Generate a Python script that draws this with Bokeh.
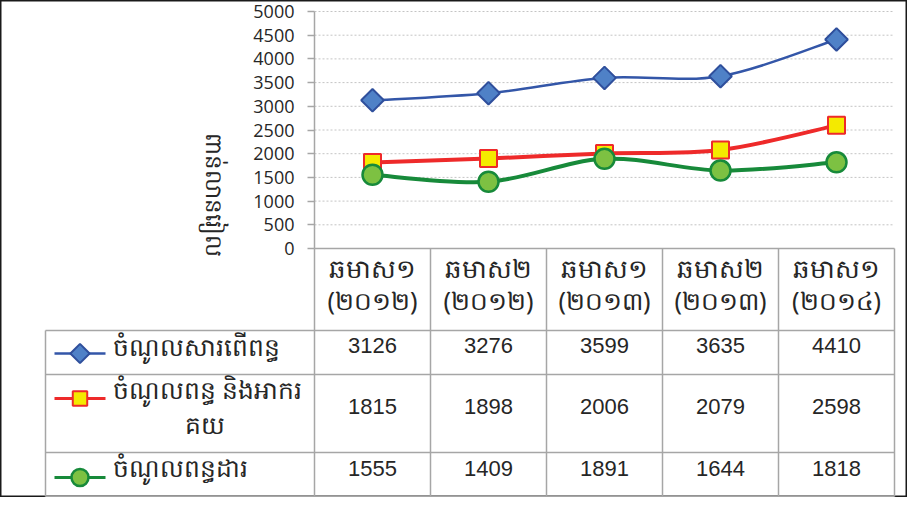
import math
from bokeh.plotting import figure
from bokeh.models import Range1d, LinearAxis, FixedTicker
from bokeh.core.properties import value
from bokeh.embed import file_html
from bokeh.resources import INLINE

# ---------------- data ----------------
periods = ["ឆមាស១", "ឆមាស២", "ឆមាស១", "ឆមាស២", "ឆមាស១"]
years = ["(២០១២)", "(២០១២)", "(២០១៣)", "(២០១៣)", "(២០១៤)"]
tax_revenue = [3126, 3276, 3599, 3635, 4410]          # ចំណូលសារពើពន្ធ
customs_revenue = [1815, 1898, 2006, 2079, 2598]      # ចំណូលពន្ធ និងអាករគយ
direct_tax_revenue = [1555, 1409, 1891, 1644, 1818]   # ចំណូលពន្ធដារ
series_names = [["ចំណូលសារពើពន្ធ"], ["ចំណូលពន្ធ និងអាករ", "គយ"], ["ចំណូលពន្ធដារ"]]
y_ticks = [0, 500, 1000, 1500, 2000, 2500, 3000, 3500, 4000, 4500, 5000]
y_label = "ពាន់លានរៀល"

# ---------------- layout ----------------
W, H = 907, 497
COL = 116.0                     # px per category
AX_PX = 314                     # canvas px of the value axis
def dx(px):                     # canvas px -> x data units
    return -0.5 + (px - AX_PX) / COL

Y0_PX, Y5000_PX = 248, 11
UPP = 5000.0 / (Y0_PX - Y5000_PX)

HEAD_TOP, ROW1, ROW2, ROW3, BOT = Y0_PX, 330, 374, 452, 496
LEG_X0 = dx(45)

xs = list(range(len(periods)))
KH = value("Noto Sans")
GRAY = "#a6a6a6"
TXT = "#262626"

p = figure(width=W, height=H,
           x_range=Range1d(dx(0), dx(W)),
           y_range=Range1d(-(H - Y0_PX) * UPP, 5000 + Y5000_PX * UPP),
           x_axis_type=None, y_axis_type=None,
           toolbar_location=None, output_backend="svg", min_border=0)
p.extra_y_ranges = {"tab": Range1d(start=H, end=0)}
p.outline_line_color = "#1a1a1a"
p.outline_line_width = 2
p.background_fill_color = "white"

# value axis
yaxis = LinearAxis(fixed_location=-0.5, bounds=(0, 5000), ticker=FixedTicker(ticks=y_ticks))
yaxis.axis_line_color = GRAY
yaxis.axis_line_width = 1.5
yaxis.major_tick_line_color = GRAY
yaxis.major_tick_line_width = 1.5
yaxis.major_tick_out = 7
yaxis.major_tick_in = 0
yaxis.minor_tick_line_color = None
yaxis.major_label_standoff = 13
yaxis.major_label_text_font = "Open Sans"
yaxis.major_label_text_font_size = "18px"
yaxis.major_label_text_color = TXT
p.add_layout(yaxis, "left")

# dotted gridlines
grid_vals = [t for t in y_ticks if t > 0]
p.segment(x0=[-0.5] * len(grid_vals), x1=[len(xs) - 0.5] * len(grid_vals),
          y0=grid_vals, y1=grid_vals, line_color="#c4c4c4", line_width=1, line_dash="2 2")

# table lines
n = len(xs)
p.segment(x0=[-0.5], x1=[n - 0.5], y0=[HEAD_TOP], y1=[HEAD_TOP],
          line_color=GRAY, line_width=1.5, y_range_name="tab")
p.segment(x0=[LEG_X0] * 4, x1=[n - 0.5] * 4, y0=[ROW1, ROW2, ROW3, BOT], y1=[ROW1, ROW2, ROW3, BOT],
          line_color=GRAY, line_width=1.5, y_range_name="tab")
vx = [i - 0.5 for i in range(n + 1)]
p.segment(x0=vx, x1=vx, y0=[HEAD_TOP] * len(vx), y1=[BOT] * len(vx),
          line_color=GRAY, line_width=1.5, y_range_name="tab")
p.segment(x0=[LEG_X0], x1=[LEG_X0], y0=[ROW1], y1=[BOT],
          line_color=GRAY, line_width=1.5, y_range_name="tab")

# smooth lines (Catmull-Rom -> Bezier), computed from the data points
def bezier_parts(xv, yv, t=1.0 / 6):
    m = len(xv)
    out = {k: [] for k in ("x0", "y0", "x1", "y1", "cx0", "cy0", "cx1", "cy1")}
    for i in range(m - 1):
        xp, yp = (xv[i - 1], yv[i - 1]) if i > 0 else (xv[i], yv[i])
        xn, yn = (xv[i + 2], yv[i + 2]) if i + 2 < m else (xv[i + 1], yv[i + 1])
        out["x0"].append(xv[i]); out["y0"].append(yv[i])
        out["x1"].append(xv[i + 1]); out["y1"].append(yv[i + 1])
        out["cx0"].append(xv[i] + (xv[i + 1] - xp) * t)
        out["cy0"].append(yv[i] + (yv[i + 1] - yp) * t)
        out["cx1"].append(xv[i + 1] - (xn - xv[i]) * t)
        out["cy1"].append(yv[i + 1] - (yn - yv[i]) * t)
    return out

styles = [
    dict(data=tax_revenue, line="#3356a8", lw=2.5, marker="square", angle=math.pi / 4,
         size=16, fill="#4f81c7", edge="#2f4f9c", ew=2),
    dict(data=customs_revenue, line="#ee2a2a", lw=4, marker="square", angle=0,
         size=17, fill="#f4ea00", edge="#ee2a2a", ew=2),
    dict(data=direct_tax_revenue, line="#178a3a", lw=4, marker="circle", angle=0,
         size=20, fill="#7dc142", edge="#178a3a", ew=2.5),
]
for s in styles:
    b = bezier_parts(xs, s["data"])
    p.bezier(line_color=s["line"], line_width=s["lw"], **b)
for s in styles:
    p.scatter(xs, s["data"], marker=s["marker"], angle=s["angle"], size=s["size"],
              fill_color=s["fill"], line_color=s["edge"], line_width=s["ew"])

# header (categories)
p.text(x=xs, y=[267] * n, text=periods, y_range_name="tab", text_align="center",
       text_baseline="middle", text_font=KH, text_font_size="26px", text_color=TXT)
p.text(x=xs, y=[299] * n, text=years, y_range_name="tab", text_align="center",
       text_baseline="middle", text_font=KH, text_font_size="25px", text_color=TXT)

# table values
row_text_y = [345, 406, 468]
for data, ry in zip([tax_revenue, customs_revenue, direct_tax_revenue], row_text_y):
    p.text(x=xs, y=[ry] * n, text=[str(v) for v in data], y_range_name="tab",
           text_align="center", text_baseline="middle", text_font=value("Liberation Sans"),
           text_font_size="22px", text_color=TXT)

# legend keys
sym_y = [353, 398, 477]
k0, k1, kc = dx(54), dx(105), dx(79.5)
for s, sy in zip(styles, sym_y):
    p.segment(x0=[k0], x1=[k1], y0=[sy], y1=[sy], line_color=s["line"],
              line_width=max(2.5, s["lw"] * 0.75), y_range_name="tab")
    p.scatter([kc], [sy], marker=s["marker"], angle=s["angle"], size=s["size"] * 0.85,
              fill_color=s["fill"], line_color=s["edge"], line_width=s["ew"], y_range_name="tab")

# legend labels
tx = dx(112)
LEG_FS = "25px"
p.text(x=[tx], y=[345], text=[series_names[0][0]], y_range_name="tab", text_align="left",
       text_baseline="middle", text_font=KH, text_font_size=LEG_FS, text_color=TXT)
p.text(x=[tx], y=[388], text=[series_names[1][0]], y_range_name="tab", text_align="left",
       text_baseline="middle", text_font=KH, text_font_size=LEG_FS, text_color=TXT)
p.text(x=[dx(204)], y=[423], text=[series_names[1][1]], y_range_name="tab", text_align="center",
       text_baseline="middle", text_font=KH, text_font_size=LEG_FS, text_color=TXT)
p.text(x=[tx], y=[466], text=[series_names[2][0]], y_range_name="tab", text_align="left",
       text_baseline="middle", text_font=KH, text_font_size=LEG_FS, text_color=TXT)

# value-axis title (reads top to bottom)
p.text(x=[dx(214)], y=[194], text=[y_label], y_range_name="tab", angle=-math.pi / 2,
       text_align="center", text_baseline="middle", text_font=KH, text_font_size="23px",
       text_color=TXT)

open("out.html", "w").write(file_html(p, INLINE))
